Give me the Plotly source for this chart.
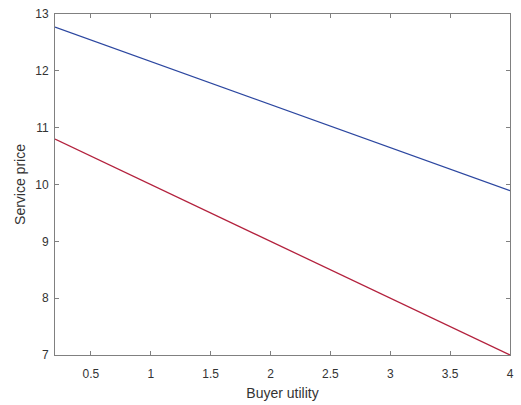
import plotly.graph_objects as go

buyer_utility = [0.2, 4.0]
price_high = [12.77, 9.89]
price_low = [10.80, 7.00]
x_ticks = [0.5, 1, 1.5, 2, 2.5, 3, 3.5, 4]
x_tick_labels = ["0.5", "1", "1.5", "2", "2.5", "3", "3.5", "4"]
y_ticks = [7, 8, 9, 10, 11, 12, 13]

FONT = "Liberation Sans, Arial"
axis_common = dict(showline=True, linecolor="#808080", linewidth=1, mirror="ticks",
                   ticks="inside", ticklen=4, tickcolor="#808080", showgrid=False,
                   zeroline=False, tickfont=dict(family=FONT, size=12, color="#333333"))

fig = go.Figure()
fig.add_trace(go.Scatter(x=buyer_utility, y=price_high, mode="lines",
                         line=dict(color="#2c47a0", width=1.3), showlegend=False))
fig.add_trace(go.Scatter(x=buyer_utility, y=price_low, mode="lines",
                         line=dict(color="#b3213d", width=1.3), showlegend=False))

fig.update_xaxes(range=[0.2, 4], tickvals=x_ticks, ticktext=x_tick_labels, ticklabelstandoff=8,
                 title=dict(text="Buyer utility", font=dict(family=FONT, size=14, color="#333333"), standoff=7),
                 **axis_common)
fig.update_yaxes(range=[7, 13], tickvals=y_ticks, ticklabelstandoff=3,
                 title=dict(text="Service price", font=dict(family=FONT, size=14, color="#333333"), standoff=6),
                 **axis_common)
fig.update_layout(width=521, height=405, margin=dict(l=55, r=7, t=9, b=50),
                  plot_bgcolor="white", paper_bgcolor="white")
fig.write_html("out.html")
